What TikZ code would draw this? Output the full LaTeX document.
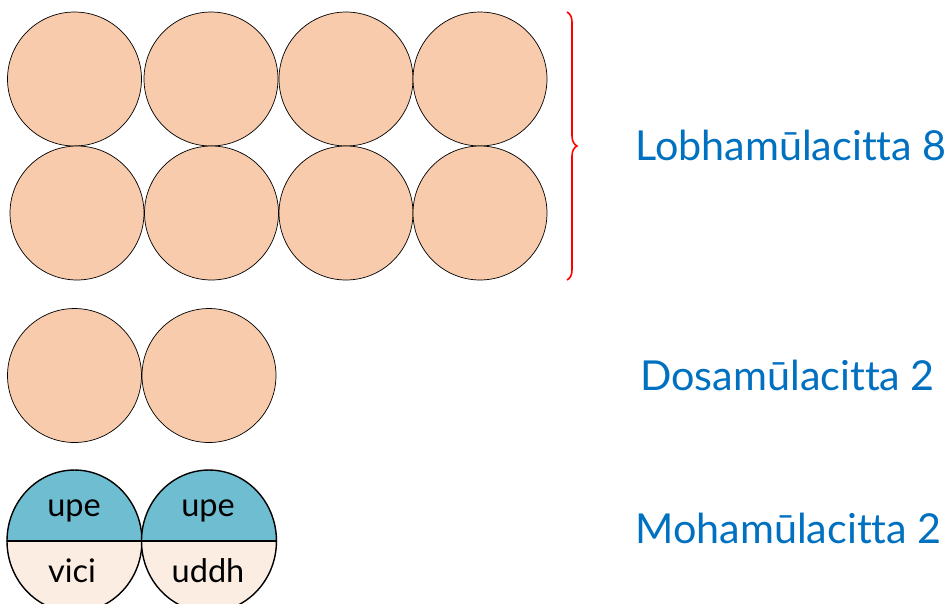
\documentclass[tikz,border=0pt]{standalone}
\usepackage{fontspec}
\setmainfont{Lato}[Ligatures=NoCommon]
\usetikzlibrary{decorations.pathreplacing}

\definecolor{cittaorange}{HTML}{F8CBAD}
\definecolor{cittacyan}{HTML}{6FBDD1}
\definecolor{cittapale}{HTML}{FCEDE3}
\definecolor{cittablue}{HTML}{0070C0}

\begin{document}
\begin{tikzpicture}
	[x=0.02cm,y=-0.02cm,
	cittanode/.style={circle, draw=black, line width=0.4pt, fill=cittaorange, minimum size=2.68cm, inner sep=0pt},
	cittalabel/.style={text=cittablue, font=\fontsize{23.5}{27}\selectfont, anchor=base west, inner sep=0pt},
	halflabel/.style={font=\fontsize{18.5}{22}\selectfont, anchor=base, inner sep=0pt}]

	\useasboundingbox (0,0) rectangle (945,603);

	%Lobha
	\node[cittanode] (l1) at (74.5,79) {};
	\node[cittanode] (l2) at (211,79) {};
	\node[cittanode] (l3) at (346,79) {};
	\node[cittanode] (l4) at (480,79) {};
	\node[cittanode] (l5) at (77,213) {};
	\node[cittanode] (l6) at (211.5,213) {};
	\node[cittanode] (l7) at (346,213) {};
	\node[cittanode] (l8) at (480,213) {};

	%brace
	\coordinate (bracetop) at (567,12);
	\coordinate (bracebot) at (567,280);
	\draw[red, line width=0.9pt, decorate, decoration={brace, amplitude=0.2cm}] (bracetop) -- (bracebot);

	%Dosa
	\node[cittanode] (d1) at (74.5,375.5) {};
	\node[cittanode] (d2) at (209,375.5) {};

	%Moha
	\coordinate (m1) at (74.5,541);
	\coordinate (m2) at (209,541);
	\filldraw[fill=cittacyan, line width=0.8pt] (7,541) arc[start angle=180, end angle=0, x radius=1.35cm, y radius=1.42cm] -- cycle;
	\filldraw[fill=cittapale, line width=0.8pt] (7,541) arc[start angle=180, end angle=360, x radius=1.35cm, y radius=1.42cm] -- cycle;
	\filldraw[fill=cittacyan, line width=0.8pt] (141.5,541) arc[start angle=180, end angle=0, x radius=1.35cm, y radius=1.42cm] -- cycle;
	\filldraw[fill=cittapale, line width=0.8pt] (141.5,541) arc[start angle=180, end angle=360, x radius=1.35cm, y radius=1.42cm] -- cycle;
	\draw[line width=1.3pt] (7,541) -- (276.5,541);

	\node[halflabel] (m1top) at (74,516) {upe};
	\node[halflabel] (m1bot) at (72,582) {vici};
	\node[halflabel] (m2top) at (208,516) {upe};
	\node[halflabel] (m2bot) at (208,582) {uddh};

	%labels
	\node[cittalabel] (lobha) at (635,160) {Lobhamūlacitta 8};
	\node[cittalabel] (dosa) at (640,390) {Dosamūlacitta 2};
	\node[cittalabel] (moha) at (635,543) {Mohamūlacitta 2};
\end{tikzpicture}
\end{document}
